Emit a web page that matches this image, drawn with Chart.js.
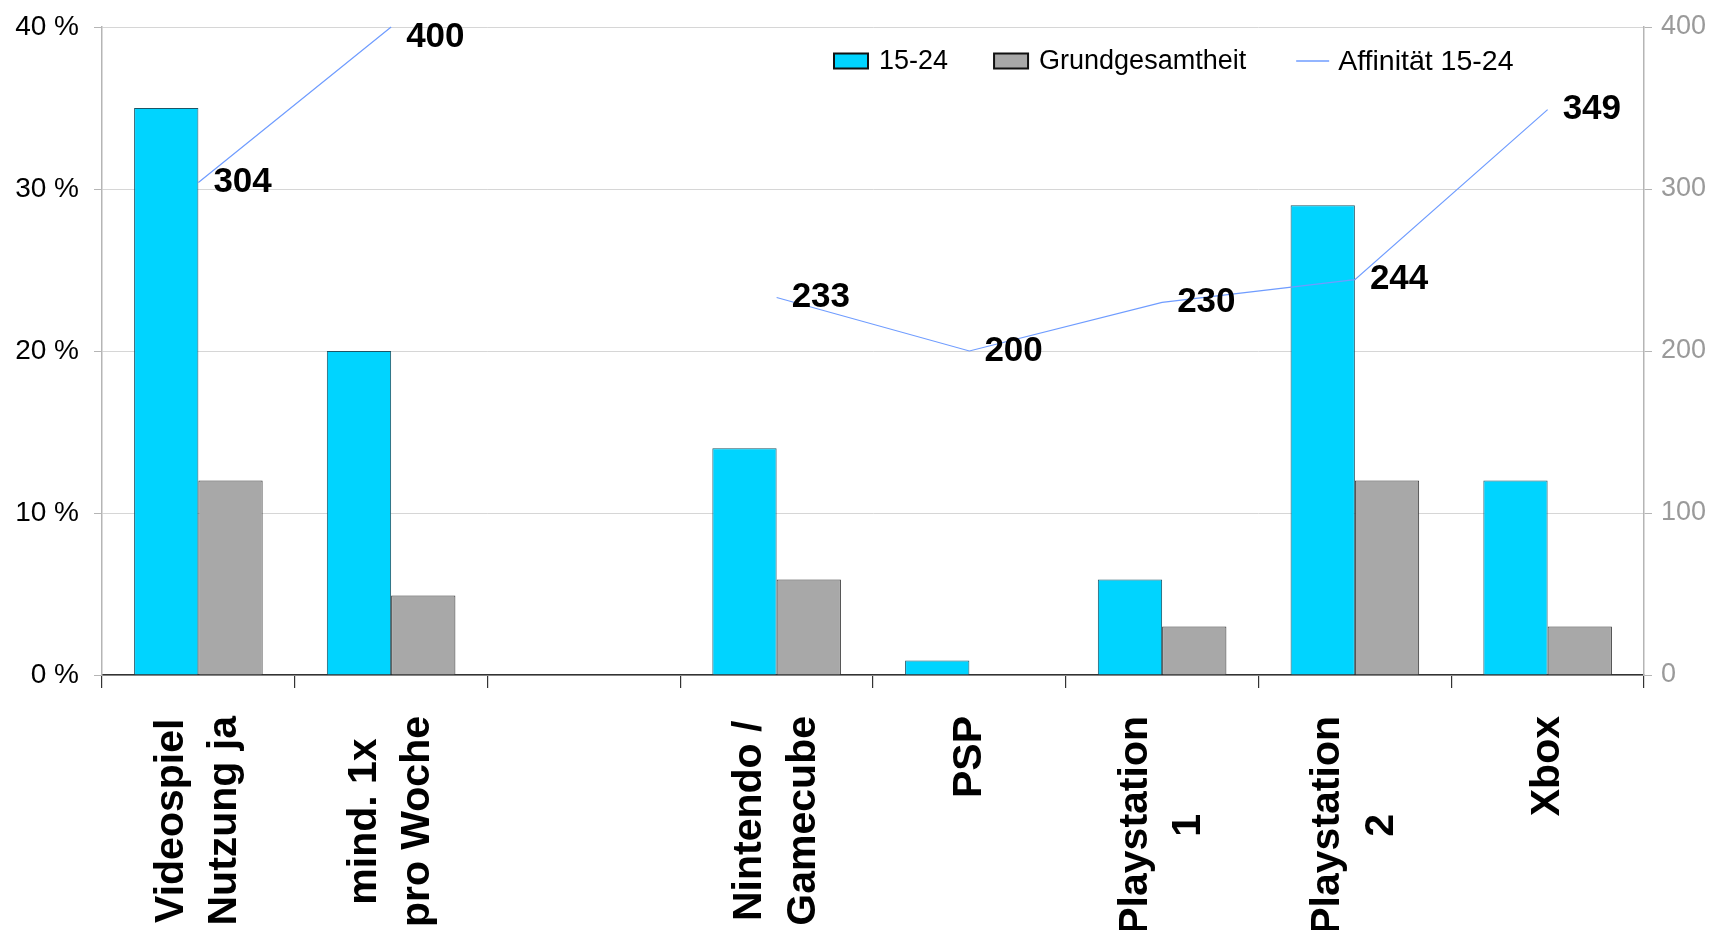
<!DOCTYPE html>
<html>
<head>
<meta charset="utf-8">
<script src="https://cdn.jsdelivr.net/npm/chart.js@4.4.1/dist/chart.umd.min.js"></script>
<style>
  html, body { margin: 0; padding: 0; background: #fff; }
  #wrap { width: 1713px; height: 930px; position: relative; }
</style>
</head>
<body>
<div id="wrap"><canvas id="c"></canvas></div>
<script>
// ---- data ----
const categories = [
  ['Videospiel', 'Nutzung ja'],
  ['mind. 1x', 'pro Woche'],
  [''],
  ['Nintendo /', 'Gamecube'],
  ['PSP'],
  ['Playstation', '1'],
  ['Playstation', '2'],
  ['Xbox']
];
const share1524 = [35, 20, null, 14, 0.9, 5.9, 29, 12];
const shareTotal = [12, 4.9, null, 5.9, 0, 3, 12, 3];
const affinity = [304, 400, null, 233, 200, 230, 244, 349];
const seriesNames = ['15-24', 'Grundgesamtheit', 'Affinität 15-24'];
const leftTicks = [0, 10, 20, 30, 40];
const rightTicks = [0, 100, 200, 300, 400];

const FONT = "'Liberation Sans', Arial, Helvetica, sans-serif";
const CYAN = '#00d4ff';
const GRAY = '#a8a8a8';
const LINE = '#6f9cff';

Chart.defaults.font.family = FONT;

// x-axis labels: rotated, block top-aligned, lines centered
const xLabelPlugin = {
  id: 'xLabels',
  afterDraw(chart) {
    const ctx = chart.ctx;
    const xs = chart.scales.x;
    const top = chart.chartArea.bottom + 41;
    const lh = 53.5;
    ctx.save();
    ctx.font = "bold 41px " + FONT;
    ctx.fillStyle = '#000';
    ctx.textAlign = 'center';
    ctx.textBaseline = 'middle';
    categories.forEach((lines, i) => {
      const cx = xs.getPixelForValue(i);
      const maxW = Math.max(...lines.map(l => ctx.measureText(l).width));
      const cy = top + maxW / 2;
      lines.forEach((l, j) => {
        const off = (j - (lines.length - 1) / 2) * lh;
        ctx.save();
        ctx.translate(cx + off, cy);
        ctx.rotate(-Math.PI / 2);
        ctx.fillText(l, 0, 0);
        ctx.restore();
      });
    });
    ctx.restore();
  }
};

// data labels for the line
const lineLabelPlugin = {
  id: 'lineLabels',
  afterDatasetsDraw(chart) {
    const ctx = chart.ctx;
    const meta = chart.getDatasetMeta(2);
    ctx.save();
    ctx.font = "bold 35px " + FONT;
    ctx.fillStyle = '#000';
    ctx.textAlign = 'left';
    ctx.textBaseline = 'middle';
    meta.data.forEach((pt, i) => {
      const v = affinity[i];
      if (v === null || v === undefined) return;
      const y = Math.max(pt.y, chart.chartArea.top + 10);
      ctx.fillText(String(v), pt.x + 15, y);
    });
    ctx.restore();
  }
};

// legend inside plot area
const legendPlugin = {
  id: 'insideLegend',
  afterDraw(chart) {
    const ctx = chart.ctx;
    ctx.save();
    ctx.font = "27px " + FONT;
    ctx.textBaseline = 'middle';
    ctx.fillStyle = '#000';
    const y = 61;
    let x = 834;
    const boxW = 34, boxH = 15;
    const fills = [CYAN, GRAY];
    for (let k = 0; k < 2; k++) {
      ctx.fillStyle = fills[k];
      ctx.fillRect(x, y - boxH / 2, boxW, boxH);
      ctx.lineWidth = 2;
      ctx.strokeStyle = '#111';
      ctx.strokeRect(x, y - boxH / 2, boxW, boxH);
      x += boxW + 11;
      ctx.fillStyle = '#000';
      ctx.fillText(seriesNames[k], x, y + 1);
      x += ctx.measureText(seriesNames[k]).width + (k === 0 ? 46 : 50);
    }
    ctx.strokeStyle = LINE;
    ctx.lineWidth = 1.5;
    ctx.beginPath();
    ctx.moveTo(x, y);
    ctx.lineTo(x + 33, y);
    ctx.stroke();
    x += 33 + 9;
    ctx.font = "28.5px " + FONT;
    ctx.fillStyle = '#000';
    ctx.fillText(seriesNames[2], x, y + 1);
    ctx.restore();
  }
};

new Chart(document.getElementById('c'), {
  data: {
    labels: categories,
    datasets: [
      {
        type: 'bar', label: seriesNames[0], data: share1524, yAxisID: 'y',
        backgroundColor: CYAN, borderColor: '#1d5566', borderWidth: 1,
        categoryPercentage: 0.667, barPercentage: 1, order: 2
      },
      {
        type: 'bar', label: seriesNames[1], data: shareTotal, yAxisID: 'y',
        backgroundColor: GRAY, borderColor: '#333', borderWidth: 1,
        categoryPercentage: 0.667, barPercentage: 1, order: 2
      },
      {
        type: 'line', label: seriesNames[2], data: affinity, yAxisID: 'y1',
        borderColor: LINE, borderWidth: 1.2, pointRadius: 0, pointHoverRadius: 0,
        spanGaps: false, tension: 0, fill: false, order: 0, clip: false
      }
    ]
  },
  options: {
    responsive: true,
    maintainAspectRatio: false,
    animation: false,
    layout: { padding: { top: 27, left: 0, right: 0, bottom: 0 } },
    plugins: { legend: { display: false }, tooltip: { enabled: false } },
    scales: {
      x: {
        type: 'category',
        offset: true,
        grid: { offset: true, drawOnChartArea: false, drawTicks: true, tickLength: 13, color: '#333', lineWidth: 1.2 },
        border: { color: '#333', width: 1.5 },
        ticks: { display: false },
        afterFit(s) { s.height = 255; }
      },
      y: {
        position: 'left',
        min: 0, max: 40,
        afterBuildTicks(s) { s.ticks = leftTicks.map(v => ({ value: v })); },
        ticks: {
          callback: v => v + ' %',
          color: '#000', font: { size: 28, family: FONT }, padding: 15
        },
        grid: { color: '#d6d6d6', lineWidth: 1, tickLength: 8, tickColor: '#b5b5b5' },
        border: { color: '#b5b5b5', width: 1.5 },
        afterFit(s) { s.width = 102; s.paddingTop = 10; s.paddingBottom = 10; }
      },
      y1: {
        position: 'right',
        min: 0, max: 400,
        afterBuildTicks(s) { s.ticks = rightTicks.map(v => ({ value: v })); },
        ticks: {
          color: '#9a9a9a', font: { size: 27, family: FONT }, padding: 9
        },
        grid: { drawOnChartArea: false, tickLength: 8, tickColor: '#b5b5b5' },
        border: { color: '#b5b5b5', width: 1.5 },
        afterFit(s) { s.width = 69; s.paddingTop = 10; s.paddingBottom = 10; }
      }
    }
  },
  plugins: [xLabelPlugin, lineLabelPlugin, legendPlugin]
});
</script>
</body>
</html>
